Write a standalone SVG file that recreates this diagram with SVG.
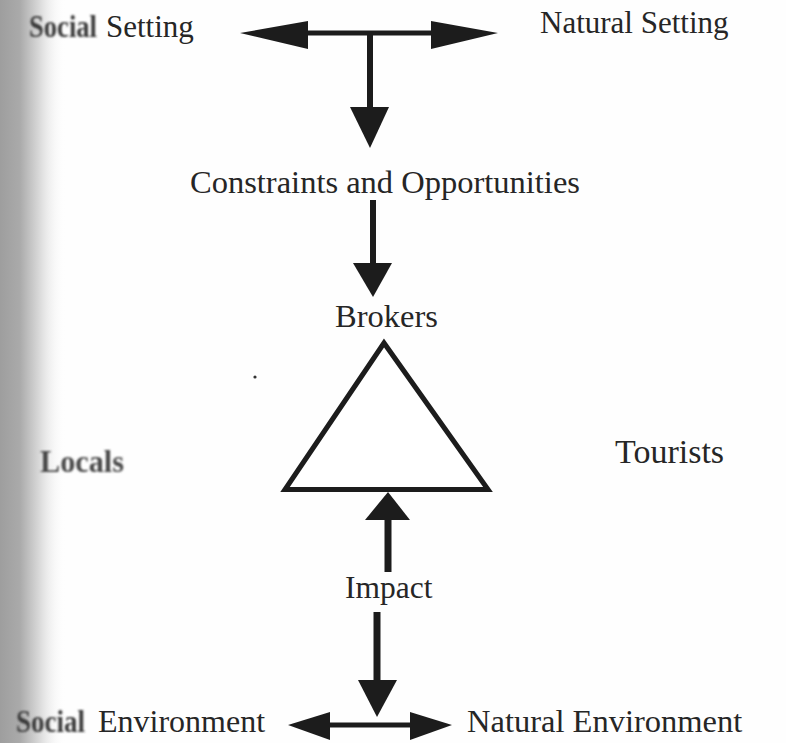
<svg xmlns="http://www.w3.org/2000/svg" width="786" height="743" viewBox="0 0 786 743">
  <defs>
    <style>
      .lbl { font-family: "Liberation Serif", "Times New Roman", serif; fill: #262626; }
      .soft { fill: #3a3a3a; font-weight: bold; }
      .line { stroke: #1c1c1c; fill: none; }
      .head { fill: #1c1c1c; stroke: none; }
      .tri { fill: #ffffff; stroke: #1c1c1c; stroke-width: 5; stroke-linejoin: miter; }
    </style>
    <linearGradient id="gutter" x1="0" y1="0" x2="1" y2="0">
      <stop offset="0" stop-color="#9e9e9e"/>
      <stop offset="0.3" stop-color="#aaaaaa"/>
      <stop offset="0.6" stop-color="#dadada"/>
      <stop offset="1" stop-color="#ffffff" stop-opacity="0"/>
    </linearGradient>
    <filter id="smear" x="-10%" y="-30%" width="120%" height="160%">
      <feGaussianBlur stdDeviation="0.9"/>
    </filter>
  </defs>

  <!-- page -->
  <rect x="0" y="0" width="786" height="743" fill="#fefefe"/>
  <!-- binding shadow along the left edge -->
  <rect x="0" y="0" width="66" height="743" fill="url(#gutter)"/>

  <!-- connectors -->
  <g id="connectors">
    <!-- settings T-junction -->
    <line class="line" x1="306" y1="33" x2="433" y2="33" stroke-width="5"/>
    <polygon class="head" points="240,33 308,21 308,49"/>
    <polygon class="head" points="498,33 431,21 431,49"/>
    <line class="line" x1="370" y1="31" x2="370" y2="109" stroke-width="6"/>
    <polygon class="head" points="350,107 389,107 370,148"/>

    <!-- constraints to brokers -->
    <line class="line" x1="373" y1="200" x2="373" y2="265" stroke-width="6"/>
    <polygon class="head" points="353,263 392,263 373,297"/>

    <!-- impact up to triangle -->
    <line class="line" x1="388" y1="518" x2="388" y2="572" stroke-width="7"/>
    <polygon class="head" points="388,492 365,520 410,520"/>

    <!-- impact down to environments -->
    <line class="line" x1="377" y1="612" x2="377" y2="682" stroke-width="7"/>
    <polygon class="head" points="358,680 397,680 377,717"/>
    <line class="line" x1="328" y1="725" x2="412" y2="725" stroke-width="5"/>
    <polygon class="head" points="288,725 330,712 330,740"/>
    <polygon class="head" points="452,725 410,712 410,740"/>
  </g>

  <g id="social-setting">
    <text class="lbl soft" x="29" y="37" font-size="31" textLength="68" lengthAdjust="spacingAndGlyphs" filter="url(#smear)">Social</text>
    <text class="lbl" x="106" y="37" font-size="31">Setting</text>
  </g>

  <g id="natural-setting">
    <text class="lbl" x="540" y="33" font-size="31">Natural Setting</text>
  </g>

  <g id="constraints">
    <text class="lbl" x="190" y="193" font-size="32.5">Constraints and Opportunities</text>
  </g>

  <g id="brokers">
    <text class="lbl" x="335" y="327" font-size="32.5">Brokers</text>
    <polygon class="tri" points="384,343 285,489.5 488,489.5"/>
  </g>

  <g id="locals">
    <text class="lbl soft" x="40" y="472" font-size="32" textLength="84" lengthAdjust="spacingAndGlyphs" filter="url(#smear)" style="fill:#4a4a4a">Locals</text>
  </g>

  <g id="tourists">
    <text class="lbl" x="615" y="463" font-size="34">Tourists</text>
  </g>

  <g id="impact">
    <text class="lbl" x="345" y="598" font-size="31.5">Impact</text>
  </g>

  <g id="social-environment">
    <text class="lbl soft" x="16" y="732" font-size="32" textLength="69" lengthAdjust="spacingAndGlyphs" filter="url(#smear)">Social</text>
    <text class="lbl" x="98" y="732" font-size="32">Environment</text>
  </g>

  <g id="natural-environment">
    <text class="lbl" x="467" y="732" font-size="32.5">Natural Environment</text>
  </g>

  <!-- speck on the page -->
  <circle cx="255" cy="377" r="1.6" fill="#333"/>
</svg>
